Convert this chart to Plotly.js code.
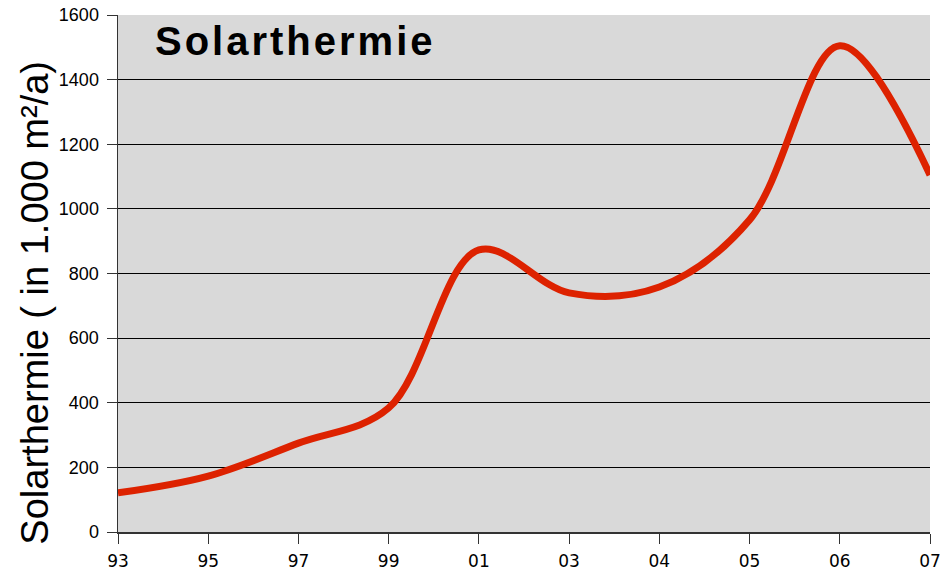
<!DOCTYPE html>
<html>
<head>
<meta charset="utf-8">
<script src="https://cdn.plot.ly/plotly-3.0.1.min.js"></script>
<style>
html,body{margin:0;padding:0;background:#fff;}
#chart{width:949px;height:573px;}
</style>
</head>
<body>
<div id="chart"></div>
<script>
var years = ["93","95","97","99","01","03","04","05","06","07"];
var values = [121, 173, 275, 384, 873, 740, 758, 966, 1505, 1105];
var yTicks = [0,200,400,600,800,1000,1200,1400,1600];
var chartTitle = "Solarthermie";
var yTitle = "Solarthermie ( in 1.000 m²/a)";

var idx = years.map(function(_, i){ return i; });

var trace = {
  x: idx,
  y: values,
  type: "scatter",
  mode: "lines",
  line: {color: "#dd2200", width: 7, shape: "spline", smoothing: 1},
  hoverinfo: "skip"
};

var layout = {
  width: 949, height: 573,
  margin: {l: 118, r: 19, t: 15, b: 41},
  paper_bgcolor: "#ffffff",
  plot_bgcolor: "#d9d9d9",
  showlegend: false,
  xaxis: {
    range: [0, 9],
    tickvals: idx,
    ticktext: years,
    showgrid: false,
    zeroline: false,
    showline: true,
    linecolor: "#333333",
    linewidth: 1.5,
    ticks: "outside",
    ticklen: 10,
    tickcolor: "#333333",
    tickwidth: 1,
    ticklabelstandoff: 3,
    tickfont: {family: "DejaVu Sans, Verdana", size: 17, color: "#000"}
  },
  yaxis: {
    range: [0, 1600],
    tickvals: yTicks,
    ticktext: yTicks.map(String),
    showgrid: true,
    gridcolor: "#000000",
    gridwidth: 1,
    zeroline: false,
    showline: true,
    linecolor: "#333333",
    linewidth: 1.5,
    ticks: "outside",
    ticklen: 10,
    tickcolor: "#333333",
    tickwidth: 1,
    ticklabelstandoff: 4,
    tickfont: {family: "Liberation Sans, Arial", size: 18, color: "#000"}
  },
  annotations: [{
    text: "<b>" + chartTitle + "</b>",
    xref: "paper", yref: "paper",
    x: 0.219, y: 0.997,
    xanchor: "center", yanchor: "top",
    showarrow: false,
    font: {family: "Liberation Sans, Arial", size: 40, color: "#000"}
  }, {
    text: yTitle,
    xref: "paper", yref: "paper",
    x: -0.102, y: 0.444,
    xanchor: "center", yanchor: "middle",
    textangle: -90,
    showarrow: false,
    font: {family: "Liberation Sans, Arial", size: 38, color: "#000"}
  }]
};

Plotly.newPlot("chart", [trace], layout, {displayModeBar: false, staticPlot: true}).then(function(){
  var t = document.querySelectorAll(".annotation-text")[0];
  if (t) t.style.letterSpacing = "3px";
});
</script>
</body>
</html>
